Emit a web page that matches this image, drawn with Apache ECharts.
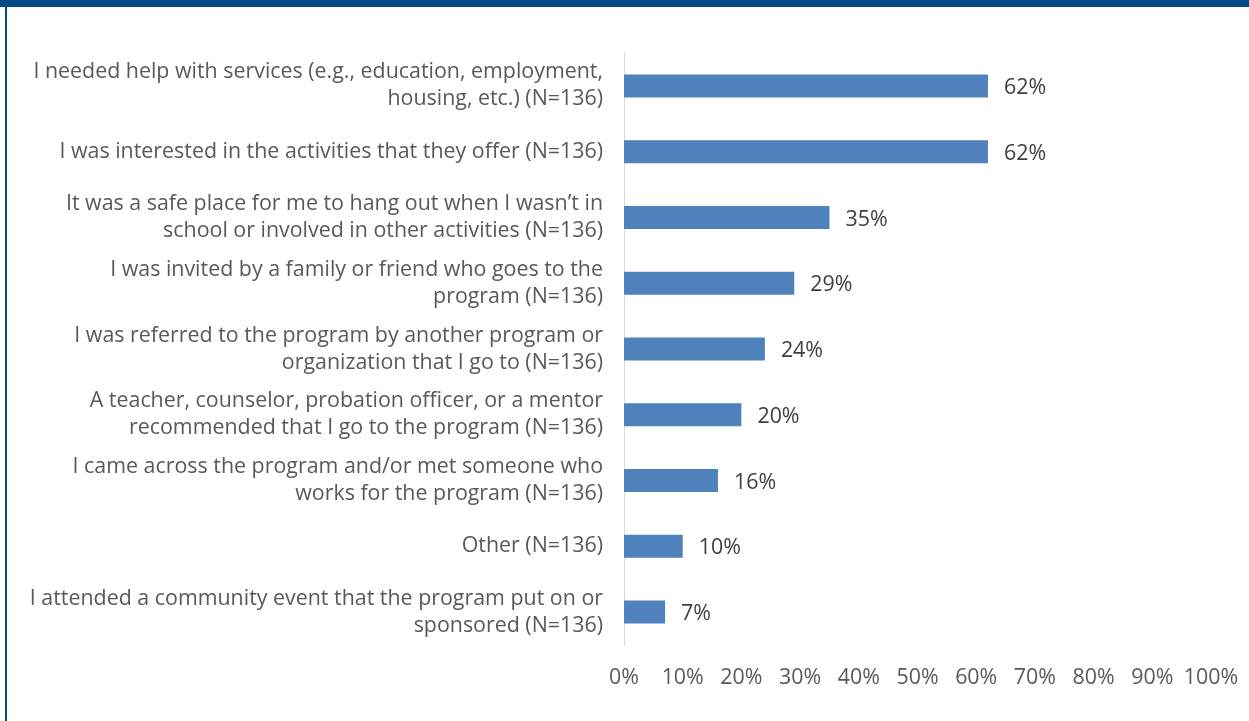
<!DOCTYPE html>
<html>
<head>
<meta charset="utf-8">
<script src="https://cdn.jsdelivr.net/npm/echarts@6/dist/echarts.min.js"></script>
<style>
  html, body { margin: 0; padding: 0; background: #ffffff; }
  #chart { width: 1249px; height: 721px; }
</style>
</head>
<body>
<div id="chart"></div>
<script>
// Reasons for coming to the program (share of respondents)
const categories = [
  'I needed help with services (e.g., education, employment,\nhousing, etc.) (N=136)',
  'I was interested in the activities that they offer (N=136)',
  'It was a safe place for me to hang out when I wasn\u2019t in\nschool or involved in other activities (N=136)',
  'I was invited by a family or friend who goes to the\nprogram (N=136)',
  'I was referred to the program by another program or\norganization that I go to (N=136)',
  'A teacher, counselor, probation officer, or a mentor\nrecommended that I go to the program (N=136)',
  'I came across the program and/or met someone who\nworks for the program (N=136)',
  'Other (N=136)',
  'I attended a community event that the program put on or\nsponsored (N=136)'
];
const values = [0.62, 0.62, 0.35, 0.29, 0.24, 0.20, 0.16, 0.10, 0.07];
const axisTicks = [0, 0.1, 0.2, 0.3, 0.4, 0.5, 0.6, 0.7, 0.8, 0.9, 1.0];

const FONT = '"Open Sans"';
const FS = 21.4;
const chart = echarts.init(document.getElementById('chart'), null, { renderer: 'canvas' });

chart.setOption({
  backgroundColor: '#ffffff',
  animation: false,
  textStyle: { fontFamily: FONT },
  graphic: [
    { type: 'rect', shape: { x: 0, y: 0, width: 1249, height: 7 }, style: { fill: '#044a85' }, silent: true },
    { type: 'rect', shape: { x: 5, y: 0, width: 2, height: 721 }, style: { fill: '#044a85' }, silent: true }
  ],
  grid: { left: 624, right: 38, top: 53, bottom: 76, containLabel: false },
  xAxis: {
    type: 'value',
    min: axisTicks[0],
    max: axisTicks[axisTicks.length - 1],
    interval: 0.1,
    axisLine: { show: false },
    axisTick: { show: false },
    splitLine: { show: false },
    axisLabel: {
      margin: 22,
      color: '#595959',
      fontSize: FS,
      fontFamily: FONT,
      formatter: v => Math.round(v * 100) + '%'
    }
  },
  yAxis: {
    type: 'category',
    inverse: true,
    data: categories,
    axisLine: { show: true, lineStyle: { color: '#d9d9d9', width: 1 } },
    axisTick: { show: false },
    axisLabel: {
      margin: 21,
      color: '#595959',
      fontSize: FS,
      fontFamily: FONT,
      lineHeight: 27,
      align: 'right'
    }
  },
  series: [{
    type: 'bar',
    data: values,
    barWidth: 23,
    itemStyle: { color: '#4f81bd' },
    label: {
      show: true,
      position: 'right',
      distance: 16,
      offset: [0, 2],
      color: '#404040',
      fontSize: FS,
      fontFamily: FONT,
      formatter: p => Math.round(p.value * 100) + '%'
    }
  }]
});
</script>
</body>
</html>
